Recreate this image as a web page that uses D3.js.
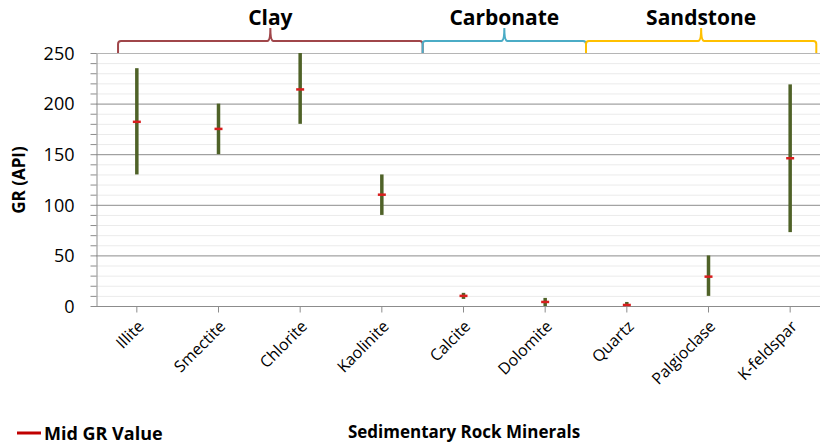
<!DOCTYPE html>
<html>
<head>
<meta charset="utf-8">
<script src="https://cdn.jsdelivr.net/npm/d3@7/dist/d3.min.js"></script>
<style>
  body { margin: 0; background: #fff; }
  text { font-family: "Open Sans", "Noto Sans", sans-serif; fill: #000; }
</style>
</head>
<body>
<script>
var minerals = ['Illite', 'Smectite', 'Chlorite', 'Kaolinite', 'Calcite', 'Dolomite', 'Quartz', 'Palgioclase', 'K-feldspar'];
var grMin = [130, 150, 180, 90, 7, 0, 0, 10, 73];
var grMax = [235, 200, 250, 130, 13, 8, 4, 50, 219];
var grMid = [182, 175, 214, 110, 10, 4, 1, 29, 146];
var yTicks = [0, 50, 100, 150, 200, 250];

var groupNames = ['Clay', 'Carbonate', 'Sandstone'];
var groupMembers = [
    ['Illite', 'Smectite', 'Chlorite', 'Kaolinite'],
    ['Calcite', 'Dolomite'],
    ['Quartz', 'Palgioclase', 'K-feldspar']
];
var groupColors = ['#a0464a', '#4bacc6', '#ffc000'];

var width = 820,
    height = 446,
    plot = { left: 96, right: 831, top: 53, bottom: 306 };

var svg = d3.select('body')
    .append('svg')
    .attr('width', width)
    .attr('height', height)

var xScale = d3.scaleBand()
    .domain(minerals)
    .range([plot.left, plot.right])
var yScale = d3.scaleLinear()
    .domain([0, 250])
    .range([plot.bottom, plot.top])

var cx = d => xScale(d) + xScale.bandwidth() / 2;

// minor grid every 10
var grid = svg.append('g')
grid.selectAll('line.minor')
    .data(d3.range(10, 250, 10).filter(v => v % 50 != 0))
    .enter().append('line')
    .attr('x1', plot.left).attr('x2', width)
    .attr('y1', d => yScale(d) + 0.5).attr('y2', d => yScale(d) + 0.5)
    .attr('stroke', '#ebebeb')
grid.selectAll('line.major')
    .data(yTicks.filter(v => v > 0))
    .enter().append('line')
    .attr('x1', plot.left).attr('x2', width)
    .attr('y1', d => yScale(d) + 0.5).attr('y2', d => yScale(d) + 0.5)
    .attr('stroke', d => d == 250 ? '#b5b5b5' : '#8c8c8c')

// y axis
var yAxis = d3.axisLeft(yScale)
    .tickValues(yTicks)
    .tickSize(0)
    .tickPadding(22)
var gy = svg.append('g').attr('transform', `translate(${plot.left + 0.5}, 0.5)`).call(yAxis)
gy.select('.domain').attr('stroke', '#8c8c8c')
gy.selectAll('text').style('font-size', '18px').attr('fill', '#000')
gy.selectAll('line.tk')
    .data(d3.range(0, 251, 10))
    .enter().append('line')
    .attr('x1', -6).attr('x2', 0)
    .attr('y1', d => yScale(d)).attr('y2', d => yScale(d))
    .attr('stroke', '#8c8c8c')

// x axis
var xAxis = d3.axisBottom(xScale)
    .tickSize(6)
    .tickSizeOuter(0)
var gx = svg.append('g').attr('transform', `translate(0, ${plot.bottom + 0.5})`).call(xAxis)
gx.select('.domain').attr('stroke', '#8c8c8c').attr('d', `M${plot.left},0H${width}`)
gx.selectAll('.tick line').attr('stroke', '#8c8c8c')
gx.selectAll('text')
    .style('font-size', '16px')
    .attr('fill', '#000')
    .attr('text-anchor', 'end')
    .attr('x', 0)
    .attr('y', 0)
    .attr('dy', '0.35em')
    .attr('transform', 'translate(4, 17) rotate(-45)')

// ranges
svg.append('g').selectAll('line')
    .data(minerals)
    .enter().append('line')
    .attr('x1', d => cx(d)).attr('x2', d => cx(d))
    .attr('y1', (d, i) => yScale(grMin[i])).attr('y2', (d, i) => yScale(grMax[i]))
    .attr('stroke', '#4f6228')
    .attr('stroke-width', 3.5)

// mid markers
svg.append('g').selectAll('line')
    .data(minerals)
    .enter().append('line')
    .attr('x1', d => cx(d) - 4).attr('x2', d => cx(d) + 4)
    .attr('y1', (d, i) => yScale(grMid[i])).attr('y2', (d, i) => yScale(grMid[i]))
    .attr('stroke', '#d81e1e')
    .attr('stroke-width', 2.5)

// group braces
var step = xScale.step();
var braceY = 41, bottomY = plot.top, peakY = 28;
function bracePath(x0, x1) {
    var m = (x0 + x1) / 2;
    return `M${x0},${bottomY} L${x0},${braceY + 3} Q${x0},${braceY} ${x0 + 3},${braceY}` +
        ` L${m - 3},${braceY} Q${m},${braceY} ${m},${peakY}` +
        ` Q${m},${braceY} ${m + 3},${braceY} L${x1 - 3},${braceY} Q${x1},${braceY} ${x1},${braceY + 3} L${x1},${bottomY}`;
}
var braces = svg.append('g')
groupNames.forEach((name, i) => {
    var mem = groupMembers[i];
    var x0 = i == 0 ? cx(mem[0]) - step * 0.23 : xScale(mem[0]);
    var x1 = i == groupNames.length - 1 ? cx(mem[mem.length - 1]) + step * 0.32 : xScale(mem[mem.length - 1]) + step;
    braces.append('path')
        .attr('d', bracePath(x0, x1))
        .attr('fill', 'none')
        .attr('stroke', groupColors[i])
        .attr('stroke-width', 2)
    braces.append('text')
        .attr('x', (x0 + x1) / 2)
        .attr('y', 25)
        .attr('text-anchor', 'middle')
        .style('font-size', '21px')
        .style('font-weight', 'bold')
        .text(name)
})

// axis titles
svg.append('text')
    .attr('transform', 'translate(25, 180) rotate(-90)')
    .attr('text-anchor', 'middle')
    .style('font-size', '17px')
    .style('font-weight', 'bold')
    .text('GR (API)')
svg.append('text')
    .attr('x', 464)
    .attr('y', 438)
    .attr('text-anchor', 'middle')
    .style('font-size', '17px')
    .style('font-weight', 'bold')
    .text('Sedimentary Rock Minerals')

// legend
svg.append('line')
    .attr('x1', 17).attr('x2', 41)
    .attr('y1', 433).attr('y2', 433)
    .attr('stroke', '#c00000')
    .attr('stroke-width', 3)
svg.append('text')
    .attr('x', 44)
    .attr('y', 440)
    .style('font-size', '18px')
    .style('font-weight', 'bold')
    .text('Mid GR Value')
</script>
</body>
</html>
